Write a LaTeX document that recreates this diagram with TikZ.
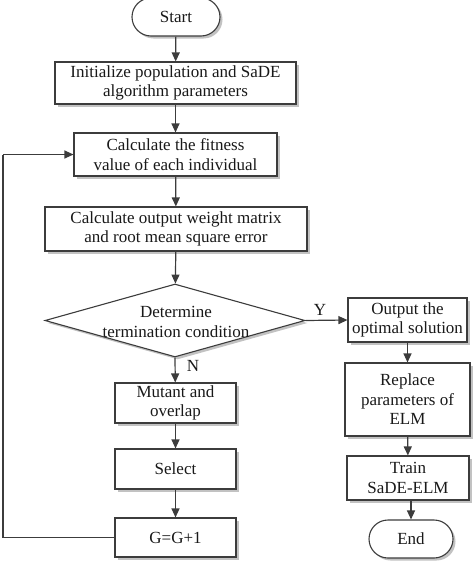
\documentclass[tikz,border=0pt]{standalone}
\usepackage{fontspec}
\setmainfont{Liberation Serif}
\usetikzlibrary{shapes.geometric,shadows,arrows.meta}
\definecolor{ln}{HTML}{3C3C3C}
\begin{document}
\begin{tikzpicture}[x=1pt,y=-1pt,
  every node/.style={font=\fontsize{17}{19.5}\selectfont, text=black!90},
  box/.style={draw=ln, line width=1.1pt, fill=white, rectangle, inner sep=0pt, align=center,
    drop shadow={shadow xshift=2.5pt, shadow yshift=-2.5pt, fill=black!40, opacity=0.6}},
  term/.style={box, rounded corners=19pt},
  arr/.style={draw=ln, line width=1.2pt, -{Triangle[length=9pt,width=8pt]}},
  lnk/.style={draw=ln, line width=1.2pt}]
\useasboundingbox (0,0) rectangle (474,562);
\node[term, minimum width=88pt, minimum height=38pt] (start) at (176,17) {Start};
\node[box, minimum width=241pt, minimum height=42pt] (init) at (175.5,83) {Initialize population and SaDE\\algorithm parameters};
\node[box, minimum width=203pt, minimum height=43pt] (fit) at (175.5,154.5) {Calculate the fitness\\value of each individual};
\node[box, minimum width=262pt, minimum height=44pt] (ow) at (176,229) {Calculate output weight matrix\\and root mean square error};
\node[draw=ln, line width=1.1pt, fill=white, diamond, aspect=3.56, inner sep=0pt, minimum width=260pt, minimum height=73pt,
  drop shadow={shadow xshift=2.5pt, shadow yshift=-2.5pt, fill=black!40, opacity=0.6}] (dia) at (175,320.5) {};
\node[align=center, inner sep=0pt] (dtext) at (176,322) {Determine\\termination condition};
\node[box, minimum width=119pt, minimum height=44pt] (out) at (407.5,320) {Output the\\optimal solution};
\node[box, minimum width=125pt, minimum height=73pt] (rep) at (407.5,399.5) {Replace\\parameters of\\ELM};
\node[box, minimum width=122pt, minimum height=44pt] (train) at (408,478) {Train\\SaDE-ELM};
\node[term, minimum width=84pt, minimum height=38pt] (end) at (411,539) {End};
\node[box, minimum width=121pt, minimum height=40pt] (mut) at (175.5,403) {Mutant and\\overlap};
\node[box, minimum width=121pt, minimum height=40pt] (sel) at (175.5,469) {Select};
\node[box, minimum width=121pt, minimum height=39pt] (g) at (175.5,537.5) {G=G+1};
\node (ylab) at (320,310) {Y};
\node (nlab) at (193,366) {N};
\coordinate (lp1) at (3,537.5);
\coordinate (lp2) at (3,154.5);
\draw[arr] (start) -- (init);
\draw[arr] (init) -- (fit);
\draw[arr] (fit) -- (ow);
\draw[arr] (ow) -- (dia);
\draw[arr] (dia.east) -- (out.west);
\draw[arr] (dia.south) -- (mut);
\draw[arr] (mut) -- (sel);
\draw[arr] (sel) -- (g);
\draw[arr] (out) -- (rep);
\draw[arr] (rep) -- (train);
\draw[arr] (train.south -| end) -- (end);
\draw[lnk] (g.west) -- (lp1) -- (lp2);
\draw[arr] (lp2) -- (fit.west);
\end{tikzpicture}
\end{document}
